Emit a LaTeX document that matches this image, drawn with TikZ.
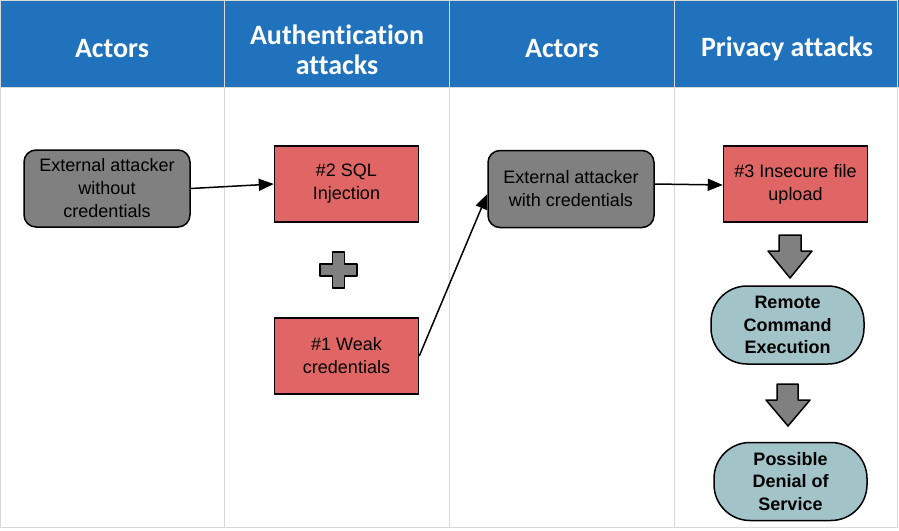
\documentclass[tikz,border=0pt]{standalone}
\usepackage{fontspec}
\setmainfont{Liberation Sans}
\newfontfamily\hfont[Ligatures=NoCommon]{Carlito}
\usetikzlibrary{arrows.meta}
\definecolor{hblue}{RGB}{31,114,187}
\definecolor{actgray}{RGB}{128,128,128}
\definecolor{atkred}{RGB}{224,102,102}
\definecolor{restel}{RGB}{162,196,201}
\definecolor{sepgray}{RGB}{217,217,217}
\begin{document}
\begin{tikzpicture}[x=1pt,y=-1pt,
  box/.style={draw=black, line width=1.5pt, align=center, font=\fontsize{18}{23}\selectfont, inner sep=0pt},
  actor/.style={box, fill=actgray, rounded corners=12pt, minimum width=166pt, minimum height=77pt},
  attack/.style={box, fill=atkred, minimum width=144pt, minimum height=76pt},
  result/.style={box, fill=restel, rounded corners=36pt, minimum width=153pt, minimum height=78pt, font=\bfseries\fontsize{18}{22.5}\selectfont},
  hdr/.style={text=white, font=\hfont\bfseries\fontsize{28}{30}\selectfont, align=center},
  conn/.style={line width=1.5pt, -{Triangle[length=15pt,width=12pt]}},
  shapegray/.style={fill=actgray, draw=black, line width=1.5pt, line join=round},
  sep/.style={draw=sepgray, line width=1pt}
]
\useasboundingbox (0,0) rectangle (899,530);
% header band
\fill[hblue] (0,0) rectangle (899,87);
% column lines and frame
\draw[sep] (0.5,0.5) rectangle (897.5,527.5);
\draw[sep] (224.5,0) -- (224.5,527.5);
\draw[sep] (449.5,0) -- (449.5,527.5);
\draw[sep] (674.5,0) -- (674.5,527.5);
\draw[sep] (0,87.5) -- (899,87.5);
% header labels
\node[hdr] (h1) at (112,49) {Actors};
\node[hdr] (h2) at (337,50) {Authentication\\attacks};
\node[hdr] (h3) at (562,49) {Actors};
\node[hdr] (h4) at (787,49) {Privacy attacks};
% nodes
\node[actor] (ext1) at (107,188.5) {External attacker\\without\\credentials};
\node[attack] (sql) at (346.5,184) {\#2 SQL\\Injection};
\node[attack] (weak) at (346.5,356) {\#1 Weak\\credentials};
\node[actor] (ext2) at (571,189) {External attacker\\with credentials};
\node[attack] (upload) at (795.5,184) {\#3 Insecure file\\upload};
\node[result] (rce) at (787.5,325) {Remote\\Command\\Execution};
\node[result] (dos) at (790.5,481.5) {Possible\\Denial of\\Service};
% plus sign
\draw[shapegray] (332.5,252) -- (344.5,252) -- (344.5,264) -- (357,264) -- (357,276) -- (344.5,276) -- (344.5,288) -- (332.5,288) -- (332.5,276) -- (320,276) -- (320,264) -- (332.5,264) -- cycle;
% block arrows
\draw[shapegray] (779,235) -- (801,235) -- (801,251) -- (812,251) -- (790,278) -- (768,251) -- (779,251) -- cycle;
\draw[shapegray] (777,384) -- (798,384) -- (798,400) -- (810,400) -- (788,426) -- (766,400) -- (777,400) -- cycle;
% connectors
\draw[conn] (ext1.east) -- (sql.west);
\draw[conn] (weak.east) -- ([yshift=-5pt]ext2.west);
\draw[conn] ([yshift=5pt]ext2.east) -- ([yshift=-1pt]upload.west);
\end{tikzpicture}
\end{document}
